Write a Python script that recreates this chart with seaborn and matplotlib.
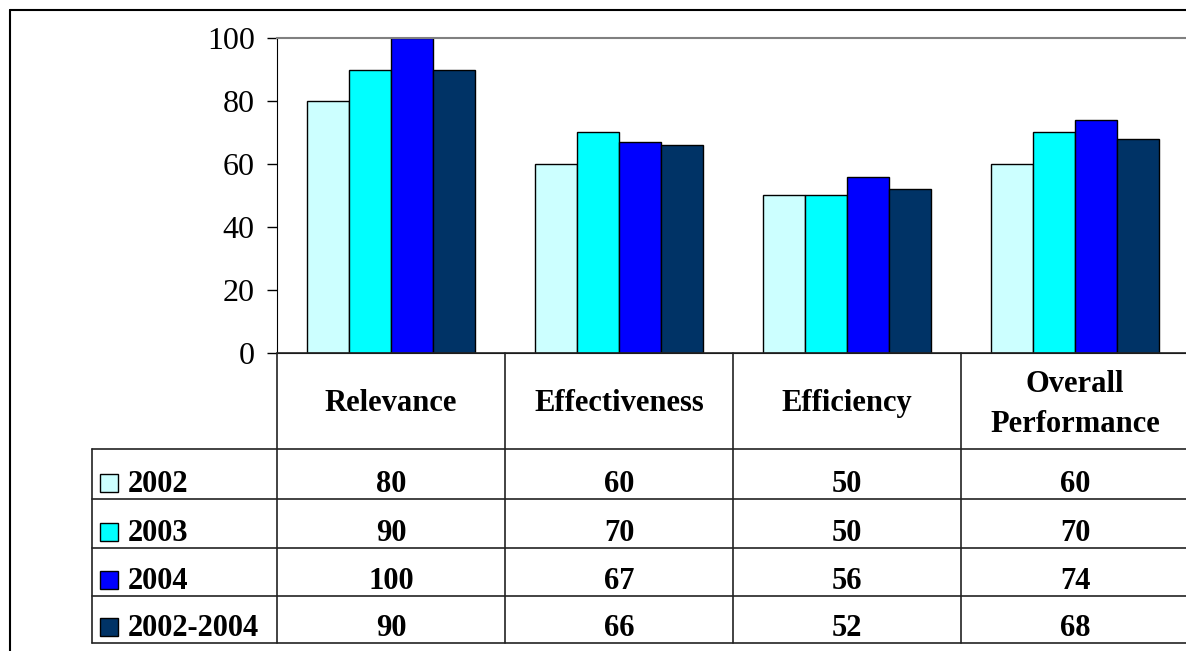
import pandas as pd
import matplotlib
matplotlib.use('Agg')
import matplotlib.pyplot as plt
from matplotlib.lines import Line2D
from matplotlib.patches import Rectangle
import seaborn as sns

# data
criteria = ['Relevance', 'Effectiveness', 'Efficiency', 'Overall Performance']
criteria_labels = [['Relevance'], ['Effectiveness'], ['Efficiency'], ['Overall', 'Performance']]
years = ['2002', '2003', '2004', '2002-2004']
scores_2002 = [80, 60, 50, 60]
scores_2003 = [90, 70, 50, 70]
scores_2004 = [100, 67, 56, 74]
scores_all = [90, 66, 52, 68]
colors = ['#CCFFFF', '#00FFFF', '#0000FF', '#003366']

series = [scores_2002, scores_2003, scores_2004, scores_all]
rows = []
for yr, vals in zip(years, series):
    for crit, v in zip(criteria, vals):
        rows.append({'Criterion': crit, 'Year': yr, 'Score': v})
df = pd.DataFrame(rows)

sns.set_style("white")
plt.rcParams['font.family'] = ['Liberation Serif', 'DejaVu Serif']

W, H = 1186, 651
fig = plt.figure(figsize=(W / 100, H / 100), dpi=100)


def fx(x):
    return x / W


def fy(y):
    return 1 - y / H


# plot area in pixel coordinates of the reference
x0, x1, ytop, ybot = 277, 1189, 38, 353
ax = fig.add_axes([fx(x0), fy(ybot), fx(x1) - fx(x0), fy(ytop) - fy(ybot)])
sns.barplot(data=df, x='Criterion', y='Score', hue='Year', order=criteria,
            hue_order=years, palette=colors, saturation=1, width=0.737,
            edgecolor='black', linewidth=1, errorbar=None, legend=False, ax=ax)
ax.set_xlim(-0.5, 3.5)
ax.set_ylim(0, 100)
ax.set_yticks(range(0, 101, 20))
ax.tick_params(axis='y', labelsize=23, labelcolor='black', length=7, width=1,
               color='black', pad=9, left=True)
ax.tick_params(axis='x', bottom=False, labelbottom=False)
ax.set_xlabel('')
ax.set_ylabel('')
ax.spines['right'].set_visible(False)
ax.spines['top'].set_color('#808080')
ax.spines['top'].set_linewidth(1.5)
ax.spines['left'].set_color('black')
ax.spines['bottom'].set_color('black')

# table below the plot
col_edges = [x0 + i * 228 for i in range(5)]
row_edges = [353, 449, 499, 548, 596, 643]
table_left = 92
lc = '#222222'


def hline(xa, xb, y, lw=1.2):
    fig.add_artist(Line2D([fx(xa), fx(xb)], [fy(y), fy(y)], color=lc, lw=lw))


def vline(x, ya, yb, lw=1.2):
    fig.add_artist(Line2D([fx(x), fx(x)], [fy(ya), fy(yb)], color=lc, lw=lw))


hline(x0, W, row_edges[0])
for y in row_edges[1:]:
    hline(table_left, W, y)
for x in col_edges[:4]:
    vline(x, row_edges[0], row_edges[-1])
vline(table_left, row_edges[1], row_edges[-1])

font_kw = dict(fontsize=22, fontweight='bold', color='black')
for i, lines in enumerate(criteria_labels):
    cx = (col_edges[i] + col_edges[i + 1]) / 2
    if len(lines) == 1:
        fig.text(fx(cx), fy(411), lines[0], ha='center', va='baseline', **font_kw)
    else:
        fig.text(fx(cx), fy(392), lines[0], ha='center', va='baseline', **font_kw)
        fig.text(fx(cx), fy(432), lines[1], ha='center', va='baseline', **font_kw)

for r, (yr, vals, col) in enumerate(zip(years, series, colors)):
    base = row_edges[r + 2] - 7
    fig.add_artist(Rectangle((fx(100), fy(base)), fx(18), 18 / H,
                             facecolor=col, edgecolor='black', lw=1))
    fig.text(fx(128), fy(base), yr, ha='left', va='baseline', **font_kw)
    for i, v in enumerate(vals):
        cx = (col_edges[i] + col_edges[i + 1]) / 2
        fig.text(fx(cx), fy(base), str(v), ha='center', va='baseline', **font_kw)

# outer frame
fig.add_artist(Line2D([fx(10), fx(10)], [fy(10), 0], color='black', lw=1.5))
fig.add_artist(Line2D([fx(10), 1], [fy(10), fy(10)], color='black', lw=1.5))

fig.savefig('out.png', dpi=100)
